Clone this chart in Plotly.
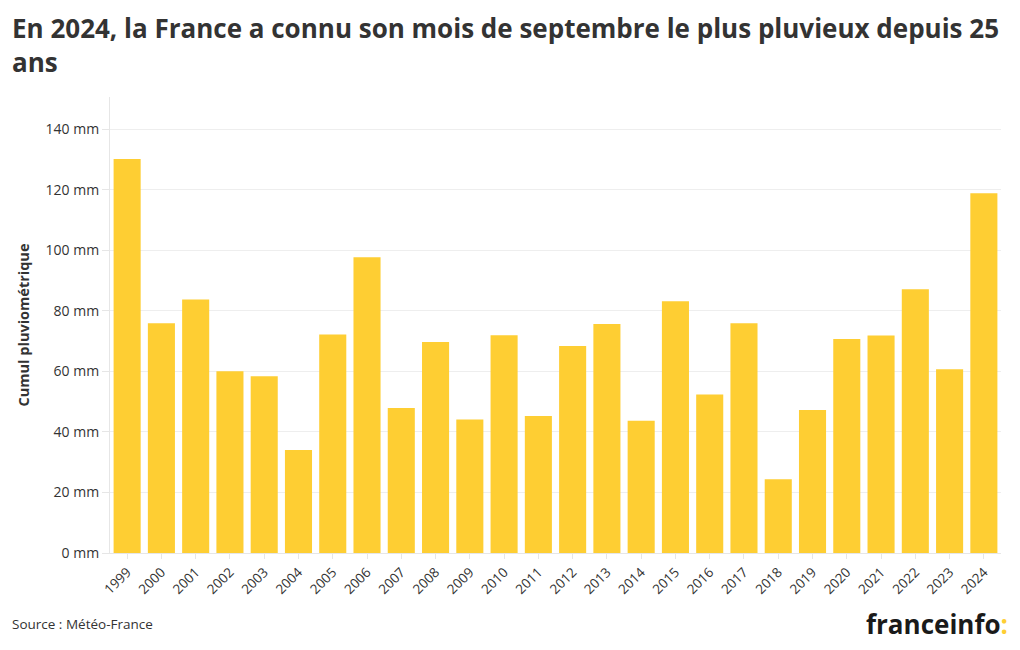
import plotly.graph_objects as go

years = [str(y) for y in range(1999, 2025)]
rain_mm = [130.2, 75.9, 83.8, 60.1, 58.4, 34.0, 72.2, 97.7, 47.9, 69.7, 44.1, 72.0, 45.3,
           68.4, 75.7, 43.7, 83.2, 52.4, 75.9, 24.4, 47.3, 70.7, 71.9, 87.2, 60.7, 118.9]
tick_vals = [0, 20, 40, 60, 80, 100, 120, 140]
tick_text = [f"{v} mm" for v in tick_vals]

title = "En 2024, la France a connu son mois de septembre le plus pluvieux depuis 25<br>ans"
y_title = "Cumul pluviométrique"
source = "Source : Météo-France"

font_fam = "'Open Sans', Lato, sans-serif"

fig = go.Figure(go.Bar(
    x=years, y=rain_mm,
    marker=dict(color="#FECE33", line=dict(width=0)),
    hovertemplate="%{x}: %{y} mm<extra></extra>",
))

fig.update_layout(
    width=1020, height=650,
    margin=dict(l=102, r=27.4, t=89, b=105.3, autoexpand=False),
    paper_bgcolor="white", plot_bgcolor="white",
    bargap=0.21,
    showlegend=False,
    font=dict(family=font_fam, color="#333333"),
    xaxis=dict(
        type="category", tickangle=-45, tickfont=dict(size=13.5, color="#333333"),
        showgrid=False, showline=True, linecolor="#e6e6e6", linewidth=1,
        ticks="outside", ticklen=5, tickcolor="#e6e6e6", automargin=False,
    ),
    yaxis=dict(
        range=[0, 150.7], tickvals=tick_vals, ticktext=tick_text,
        tickfont=dict(size=14, color="#333333"),
        showgrid=True, gridcolor="#eeeeee", gridwidth=1,
        showline=True, linecolor="#e6e6e6", linewidth=1,
        ticks="outside", ticklen=7, tickcolor="#e6e6e6",
        zeroline=False, automargin=False,
        title=dict(text="<b>" + y_title + "</b>", font=dict(size=14.5, color="#333333"), standoff=12),
    ),
    annotations=[
        dict(text="<b>" + title + "</b>", xref="paper", yref="paper", x=-0.112, y=1.1953, xanchor="left",
             yanchor="top", align="left", showarrow=False,
             font=dict(size=26, color="#333333", family=font_fam)),
        dict(text=source, xref="paper", yref="paper", x=-0.112, y=-0.1565, xanchor="left", yanchor="middle",
             showarrow=False, font=dict(size=13.5, color="#333333")),
        dict(text="<b>franceinfo<span style='color:#FECE33'>:</span></b>", xref="paper", yref="paper",
             x=1.0106, y=-0.1565, xanchor="right", yanchor="middle", showarrow=False,
             font=dict(size=26, color="#1a1a1a")),
    ],
)

fig.write_html("out.html")
